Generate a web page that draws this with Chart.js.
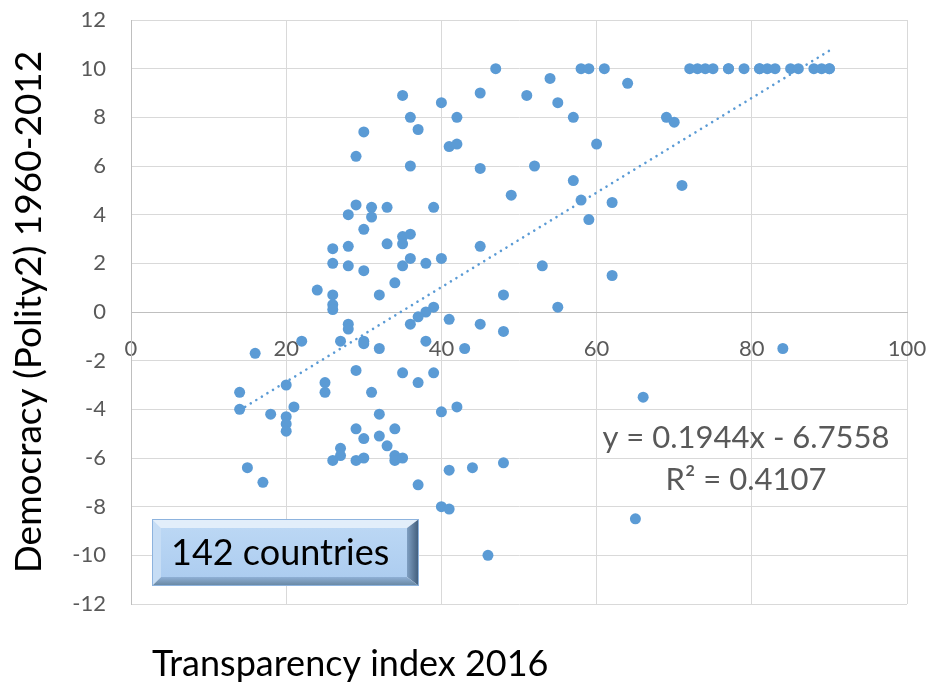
<!DOCTYPE html>
<html>
<head>
<meta charset="utf-8">
<script src="https://cdn.jsdelivr.net/npm/chart.js@4.4.0/dist/chart.umd.min.js"></script>
<style>
  body { margin: 0; background: #fff; }
</style>
</head>
<body>
<canvas id="myChart" width="928" height="685"></canvas>
<script>
// Transparency index 2016 (x) and average Polity2 score 1960-2012 (y), one entry per country
const transparency = [
  47, 58, 59, 61, 72, 73, 74, 75, 77, 77, 79, 81, 81, 82, 83, 85, 86, 88, 89, 90, 90,
  35, 40, 36, 37, 30, 29, 36, 29, 31, 33, 39, 28, 31, 30, 35, 36, 35, 33, 26, 28,
  26, 28, 30, 35, 36, 38, 40, 24, 26, 32, 34, 26, 26, 39, 38, 37, 36, 28, 28,
  22, 27, 30, 30, 32, 38, 16, 29, 35, 37, 39, 25, 25, 31, 20, 14, 14, 18, 21,
  20, 20, 20, 32, 29, 30, 32, 34, 33, 27, 27, 26, 29, 30, 34, 34, 35, 15, 17,
  37, 40, 40,
  48, 55, 41, 45, 48, 43, 66, 42, 41, 44, 48, 41, 65, 46, 84,
  54, 45, 51, 64, 55, 42, 57, 69, 70, 41, 42, 60, 45, 52, 57, 49, 58, 62, 71,
  59, 45, 53, 62
];
const polity = [
  10, 10, 10, 10, 10, 10, 10, 10, 10, 10, 10, 10, 10, 10, 10, 10, 10, 10, 10, 10, 10,
  8.9, 8.6, 8.0, 7.5, 7.4, 6.4, 6.0, 4.4, 4.3, 4.3, 4.3, 4.0, 3.9, 3.4, 3.1, 3.2, 2.8, 2.8, 2.6, 2.7,
  2.0, 1.9, 1.7, 1.9, 2.2, 2.0, 2.2, 0.9, 0.7, 0.7, 1.2, 0.3, 0.1, 0.2, 0.0, -0.2, -0.5, -0.5, -0.7,
  -1.2, -1.2, -1.2, -1.3, -1.5, -1.2, -1.7, -2.4, -2.5, -2.9, -2.5, -2.9, -3.3, -3.3, -3.0, -3.3, -4.0, -4.2, -3.9,
  -4.3, -4.6, -4.9, -4.2, -4.8, -5.2, -5.1, -4.8, -5.5, -5.6, -5.9, -6.1, -6.1, -6.0, -5.9, -6.1, -6.0, -6.4, -7.0,
  -7.1, -4.1, -8.0,
  0.7, 0.2, -0.3, -0.5, -0.8, -1.5, -3.5, -3.9, -6.5, -6.4, -6.2, -8.1, -8.5, -10, -1.5,
  9.6, 9.0, 8.9, 9.4, 8.6, 8.0, 8.0, 8.0, 7.8, 6.8, 6.9, 6.9, 5.9, 6.0, 5.4, 4.8, 4.6, 4.5, 5.2,
  3.8, 2.7, 1.9, 1.5
];

// linear trendline as printed on the chart
const trendSlope = 0.1944;
const trendIntercept = -6.7558;
const trendRange = [14, 90];
const trendR2 = 0.4107;

const xTicks = [0, 20, 40, 60, 80, 100];
const yTicks = [-12, -10, -8, -6, -4, -2, 0, 2, 4, 6, 8, 10, 12];

const xTitle = 'Transparency index 2016';
const yTitle = 'Democracy (Polity2) 1960-2012';
const boxLabel = '142 countries';

const points = transparency.map((x, i) => ({ x: x, y: polity[i] }));
const trendPoints = trendRange.map(x => ({ x: x, y: trendSlope * x + trendIntercept }));

function fillPoly(ctx, pts, style) {
  ctx.beginPath();
  ctx.moveTo(pts[0][0], pts[0][1]);
  for (let i = 1; i < pts.length; i++) ctx.lineTo(pts[i][0], pts[i][1]);
  ctx.closePath();
  ctx.fillStyle = style;
  ctx.fill();
}

// bevelled text box, like the office shape style
function drawBox(ctx, x, y, w, h) {
  const b = 9, br = 12;
  fillPoly(ctx, [[x, y], [x + w, y], [x + w - br, y + b], [x + b, y + b]], '#E2EEFA');
  fillPoly(ctx, [[x, y], [x + b, y + b], [x + b, y + h - b], [x, y + h]], '#C6DDF5');
  let g = ctx.createLinearGradient(x + w - br, 0, x + w, 0);
  g.addColorStop(0, '#7F9FC2');
  g.addColorStop(1, '#3E5A78');
  fillPoly(ctx, [[x + w, y], [x + w, y + h], [x + w - br, y + h - b], [x + w - br, y + b]], g);
  g = ctx.createLinearGradient(0, y + h - b, 0, y + h);
  g.addColorStop(0, '#8FB0D6');
  g.addColorStop(1, '#66859F');
  fillPoly(ctx, [[x, y + h], [x + b, y + h - b], [x + w - br, y + h - b], [x + w, y + h]], g);
  g = ctx.createLinearGradient(0, y + b, 0, y + h - b);
  g.addColorStop(0, '#BBD7F4');
  g.addColorStop(1, '#ADCDF0');
  ctx.fillStyle = g;
  ctx.fillRect(x + b, y + b, w - b - br, h - 2 * b);
  ctx.strokeStyle = '#8DB3DE';
  ctx.lineWidth = 1;
  ctx.strokeRect(x + 0.5, y + 0.5, w - 1, h - 1);
}

const annotations = {
  id: 'annotations',
  afterDraw(chart) {
    const ctx = chart.ctx;
    ctx.save();
    ctx.textBaseline = 'alphabetic';

    ctx.font = '36px Lato';
    ctx.fillStyle = '#000';
    ctx.textAlign = 'left';
    ctx.fillText(xTitle, 152, 676);

    ctx.font = '31px Lato';
    ctx.fillStyle = '#595959';
    ctx.textAlign = 'center';
    const sign = trendIntercept < 0 ? ' - ' : ' + ';
    ctx.fillText('y = ' + trendSlope.toFixed(4) + 'x' + sign + Math.abs(trendIntercept).toFixed(4), 746, 448);
    ctx.fillText('R\u00B2 = ' + trendR2.toFixed(4), 746, 490);

    drawBox(ctx, 152, 519, 267, 67);
    ctx.font = '36px Lato';
    ctx.fillStyle = '#000';
    ctx.textAlign = 'left';
    ctx.fillText(boxLabel, 171, 565);
    ctx.restore();
  }
};

const tickFont = { family: 'Lato', size: 22 };
const hiddenTick = 'rgba(0,0,0,0)';

new Chart(document.getElementById('myChart').getContext('2d'), {
  type: 'scatter',
  data: {
    datasets: [{
      // trendline, drawn on top of the points
      type: 'line',
      data: trendPoints,
      borderColor: '#5B9BD5',
      borderWidth: 2.6,
      borderDash: [0.01, 6.5],
      borderCapStyle: 'round',
      pointRadius: 0,
      fill: false
    }, {
      label: 'Countries',
      data: points,
      backgroundColor: '#5B9BD5',
      borderColor: '#5B9BD5',
      borderWidth: 0,
      pointRadius: 5.5,
      pointHoverRadius: 5.5
    }]
  },
  options: {
    responsive: false,
    animation: false,
    layout: { padding: { top: 20, right: 21, bottom: 81, left: 0 } },
    plugins: {
      legend: { display: false },
      tooltip: { enabled: false }
    },
    scales: {
      x: {
        type: 'linear',
        position: { y: 0 },
        min: xTicks[0],
        max: xTicks[xTicks.length - 1],
        afterBuildTicks: s => { s.ticks = xTicks.map(v => ({ value: v })); },
        ticks: { color: '#595959', font: tickFont, padding: 0, maxRotation: 0 },
        // invisible tick marks only push the labels away from the axis
        grid: { color: '#D9D9D9', tickLength: 24, tickColor: hiddenTick },
        border: { color: '#BFBFBF', width: 1 }
      },
      y: {
        type: 'linear',
        min: yTicks[0],
        max: yTicks[yTicks.length - 1],
        afterBuildTicks: s => { s.ticks = yTicks.map(v => ({ value: v })); },
        afterFit: s => { s.width = 131; },
        ticks: { color: '#595959', font: tickFont, padding: 0 },
        grid: { color: '#D9D9D9', tickLength: 25, tickColor: hiddenTick },
        border: { color: '#BFBFBF', width: 1 },
        title: {
          display: true,
          text: yTitle,
          color: '#000',
          font: { family: 'Lato', size: 37 },
          padding: { top: 7, bottom: 0 }
        }
      }
    }
  },
  plugins: [annotations]
});
</script>
</body>
</html>
